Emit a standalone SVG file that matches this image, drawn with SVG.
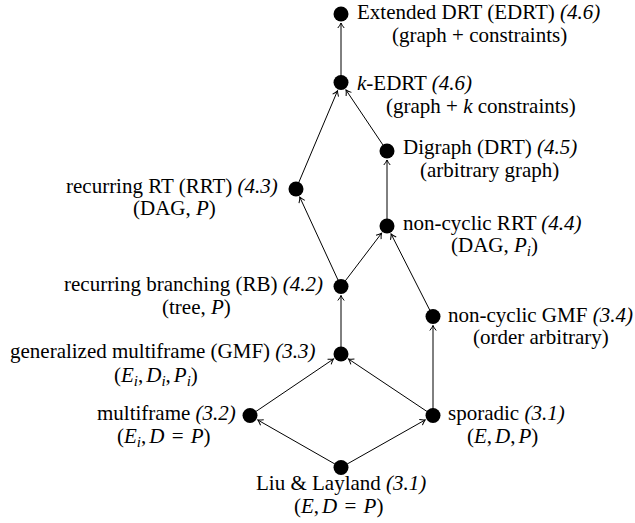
<svg xmlns="http://www.w3.org/2000/svg" width="635" height="523" viewBox="0 0 635 523">
<style>
text{font-family:"Liberation Serif","Times New Roman",serif;font-size:21px;fill:#000}
.i{font-style:italic}
.s{font-style:italic;font-size:15px}
.e line{stroke:#000;stroke-width:1;marker-end:url(#ah)}
circle{fill:#000}
</style>
<defs>
<marker id="ah" markerUnits="userSpaceOnUse" markerWidth="10" markerHeight="10" viewBox="-6 -5 7 10" refX="0" refY="0" orient="auto" overflow="visible">
<path d="M-5,-3.2 Q-2,-0.8 0,0 Q-2,0.8 -5,3.2" fill="none" stroke="#000" stroke-width="1"/>
</marker>
</defs>
<g id="connectors" class="e">
<line x1="341" y1="82.5" x2="341" y2="23"/>
<line x1="296" y1="189" x2="337.5" y2="90.8"/>
<line x1="387" y1="151" x2="346" y2="90"/>
<line x1="387" y1="226" x2="387" y2="160"/>
<line x1="341" y1="286.5" x2="299.8" y2="197.2"/>
<line x1="341" y1="286.5" x2="381.6" y2="233.2"/>
<line x1="433" y1="316.5" x2="391.1" y2="234"/>
<line x1="341" y1="354" x2="341" y2="295.5"/>
<line x1="250" y1="415.5" x2="333.5" y2="359"/>
<line x1="433" y1="415.5" x2="348.5" y2="359"/>
<line x1="433" y1="415.5" x2="433" y2="325.5"/>
<line x1="341" y1="467.5" x2="257.8" y2="420"/>
<line x1="341" y1="467.5" x2="425.2" y2="419.9"/>
</g>
<g id="edrt">
<circle cx="341" cy="14" r="7.5"/>
<text x="357" y="19">Extended DRT (EDRT) <tspan class="i">(4.6)</tspan></text>
<text x="392" y="42">(graph + constraints)</text>
</g>
<g id="kedrt">
<circle cx="341" cy="82.5" r="7.5"/>
<text x="357" y="90"><tspan class="i">k</tspan>-EDRT <tspan class="i">(4.6)</tspan></text>
<text x="386" y="113">(graph + <tspan class="i">k</tspan> constraints)</text>
</g>
<g id="digraph">
<circle cx="387" cy="151" r="7.5"/>
<text x="403" y="154">Digraph (DRT) <tspan class="i">(4.5)</tspan></text>
<text x="420" y="177">(arbitrary graph)</text>
</g>
<g id="rrt">
<circle cx="296" cy="189" r="7.5"/>
<text x="66" y="193">recurring RT (RRT) <tspan class="i">(4.3)</tspan></text>
<text x="133" y="215">(DAG, <tspan class="i">P</tspan>)</text>
</g>
<g id="ncrrt">
<circle cx="387" cy="226" r="7.5"/>
<text x="403" y="230">non-cyclic RRT <tspan class="i">(4.4)</tspan></text>
<text x="451" y="252">(DAG, <tspan class="i">P</tspan><tspan class="s" dy="4">i</tspan><tspan dy="-4">)</tspan></text>
</g>
<g id="rb">
<circle cx="341" cy="286.5" r="7.5"/>
<text x="64" y="291">recurring branching (RB) <tspan class="i">(4.2)</tspan></text>
<text x="162" y="314">(tree, <tspan class="i">P</tspan>)</text>
</g>
<g id="ncgmf">
<circle cx="433" cy="316.5" r="7.5"/>
<text x="448" y="322">non-cyclic GMF <tspan class="i">(3.4)</tspan></text>
<text x="473" y="344">(order arbitrary)</text>
</g>
<g id="gmf">
<circle cx="341" cy="354" r="7.5"/>
<text x="10" y="358">generalized multiframe (GMF) <tspan class="i">(3.3)</tspan></text>
<text x="114" y="382">(<tspan class="i">E</tspan><tspan class="s" dy="4">i</tspan><tspan dy="-4">,</tspan><tspan class="i" dx="3">D</tspan><tspan class="s" dy="4">i</tspan><tspan dy="-4">,</tspan><tspan class="i" dx="3">P</tspan><tspan class="s" dy="4">i</tspan><tspan dy="-4">)</tspan></text>
</g>
<g id="multiframe">
<circle cx="250" cy="415.5" r="7.5"/>
<text x="97" y="420">multiframe <tspan class="i">(3.2)</tspan></text>
<text x="117" y="443">(<tspan class="i">E</tspan><tspan class="s" dy="4">i</tspan><tspan dy="-4">,</tspan><tspan class="i" dx="3">D</tspan><tspan dx="2"> = </tspan><tspan class="i" dx="2">P</tspan>)</text>
</g>
<g id="sporadic">
<circle cx="433" cy="415.5" r="7.5"/>
<text x="448" y="420">sporadic <tspan class="i">(3.1)</tspan></text>
<text x="467" y="443">(<tspan class="i">E</tspan>,<tspan class="i" dx="3">D</tspan>,<tspan class="i" dx="3">P</tspan>)</text>
</g>
<g id="liu">
<circle cx="341" cy="467.5" r="7.5"/>
<text x="256" y="490">Liu &amp; Layland <tspan class="i">(3.1)</tspan></text>
<text x="294" y="513">(<tspan class="i">E</tspan>,<tspan class="i" dx="3">D</tspan><tspan dx="2"> = </tspan><tspan class="i" dx="2">P</tspan>)</text>
</g>
</svg>
